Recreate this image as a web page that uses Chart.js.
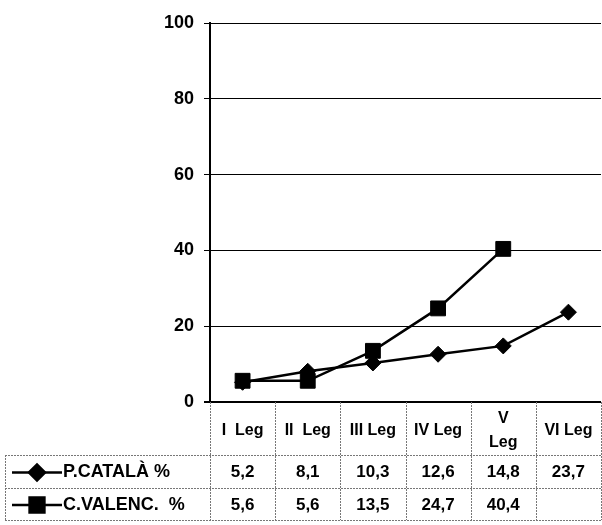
<!DOCTYPE html>
<html>
<head>
<meta charset="utf-8">
<script src="https://cdn.jsdelivr.net/npm/chart.js@4.4.0/dist/chart.umd.min.js"></script>
<style>
  html, body { margin: 0; padding: 0; background: #fff; overflow: hidden; }
  #grafico { display: block; }
</style>
</head>
<body>
<canvas id="grafico" width="602" height="525"></canvas>
<script>
var etiquetas = ["I  Leg", "II  Leg", "III Leg", "IV Leg", ["V", "Leg"], "VI Leg"];
var catala = [5.2, 8.1, 10.3, 12.6, 14.8, 23.7];
var valenc = [5.6, 5.6, 13.5, 24.7, 40.4, null];
var nombres = ["P.CATALÀ %", "C.VALENC.  %"];
var marcas = ["rectRot", "rect"];
var radios = [8, 10.5];

var fuente = "'Liberation Sans', Arial, sans-serif";

// tabla de datos debajo del grafico (estilo Excel)
var tabla = {
    id: "tabla",
    afterDraw: function (chart) {
        var ctx = chart.ctx;
        var x = chart.scales.x;
        var area = chart.chartArea;
        var top = area.bottom;
        var filas = [top, 455, 488, 520];
        var izq = 5;
        var n = etiquetas.length;
        var bordes = [area.left];
        for (var i = 0; i < n - 1; i++) {
            bordes.push((x.getPixelForValue(i) + x.getPixelForValue(i + 1)) / 2);
        }
        bordes.push(area.right);

        ctx.save();
        ctx.strokeStyle = "#777";
        ctx.lineWidth = 1;
        ctx.setLineDash([2, 1]);
        ctx.beginPath();
        bordes.forEach(function (b) {
            ctx.moveTo(Math.round(b) + 0.5, top);
            ctx.lineTo(Math.round(b) + 0.5, filas[3]);
        });
        ctx.moveTo(izq + 0.5, filas[1]);
        ctx.lineTo(izq + 0.5, filas[3]);
        for (var f = 1; f < 4; f++) {
            ctx.moveTo(izq, filas[f] + 0.5);
            ctx.lineTo(area.right, filas[f] + 0.5);
        }
        ctx.stroke();
        ctx.setLineDash([]);

        ctx.fillStyle = "#000";
        ctx.textAlign = "center";
        ctx.textBaseline = "middle";
        ctx.font = "bold 16px " + fuente;
        var medio = (filas[0] + filas[1]) / 2 + 2;
        etiquetas.forEach(function (et, i) {
            var cx = x.getPixelForValue(i);
            if (Array.isArray(et)) {
                ctx.fillText(et[0], cx, medio - 12);
                ctx.fillText(et[1], cx, medio + 12);
            } else {
                ctx.fillText(et, cx, medio);
            }
        });

        [catala, valenc].forEach(function (serie, s) {
            var cy = (filas[s + 1] + filas[s + 2]) / 2 + 1;
            ctx.font = "bold 17px " + fuente;
            ctx.textAlign = "center";
            serie.forEach(function (v, i) {
                if (v === null) return;
                ctx.fillText(String(v).replace(".", ","), x.getPixelForValue(i), cy);
            });
            // leyenda
            ctx.strokeStyle = "#000";
            ctx.lineWidth = 2.5;
            ctx.beginPath();
            ctx.moveTo(12, cy);
            ctx.lineTo(62, cy);
            ctx.stroke();
            Chart.helpers.drawPoint(ctx, {
                pointStyle: marcas[s], radius: radios[s], rotation: 0, borderWidth: 1
            }, 37, cy);
            ctx.fillStyle = "#000";
            ctx.fill();
            ctx.textAlign = "left";
            ctx.font = "bold 18px " + fuente;
            ctx.fillText(nombres[s], 63, cy);
        });
        ctx.restore();
    }
};

function serie(titulo, valores, marca, radio) {
    return {
        label: titulo,
        data: valores,
        borderColor: "#000",
        backgroundColor: "#000",
        borderWidth: 2.5,
        pointStyle: marca,
        pointRadius: radio,
        pointHoverRadius: radio,
        pointBackgroundColor: "#000",
        pointBorderColor: "#000",
        pointBorderWidth: 1,
        tension: 0,
        spanGaps: false
    };
}

var ctx1 = document.getElementById("grafico").getContext("2d");
window.miGrafico = new Chart(ctx1, {
    type: "line",
    data: {
        labels: etiquetas,
        datasets: [
            serie(nombres[0], catala, marcas[0], radios[0]),
            serie(nombres[1], valenc, marcas[1], radios[1])
        ]
    },
    options: {
        responsive: false,
        animation: false,
        layout: { autoPadding: false, padding: { top: 23, right: 1, bottom: 123, left: 0 } },
        plugins: {
            legend: { display: false },
            title: { display: false },
            tooltip: { enabled: false }
        },
        scales: {
            x: { display: false, offset: true },
            y: {
                min: 0,
                max: 100,
                afterFit: function (scale) { scale.width = 210; },
                ticks: {
                    stepSize: 20,
                    padding: 10,
                    color: "#000",
                    font: { family: fuente, size: 18, weight: "bold" }
                },
                grid: {
                    color: "#000",
                    lineWidth: function (c) { return c.tick && c.tick.value === 0 ? 2 : 1; },
                    drawTicks: true,
                    tickLength: 6,
                    tickColor: "#000"
                },
                border: { display: true, color: "#000", width: 2 }
            }
        }
    },
    plugins: [tabla]
});
</script>
</body>
</html>
